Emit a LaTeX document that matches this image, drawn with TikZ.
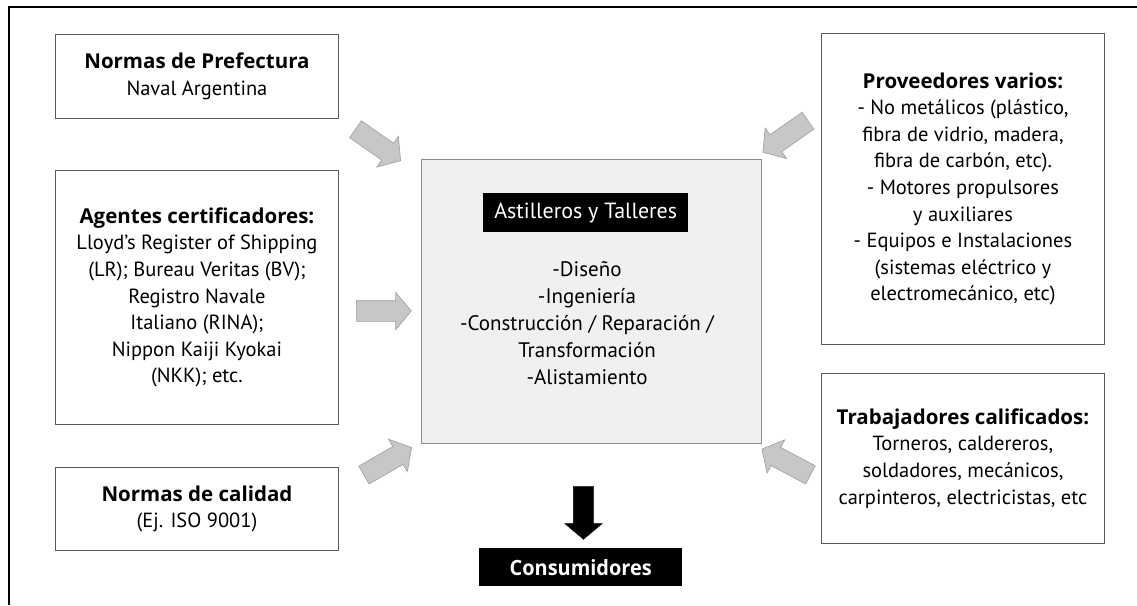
\documentclass[tikz,border=0pt]{standalone}
\usepackage{fontspec}
\setmainfont{PT Sans}
\newfontfamily\headfont{Open Sans}
\usetikzlibrary{shapes.arrows}

% bold heading inside the boxes
\newcommand{\boxhead}[1]{{\headfont\bfseries\fontsize{20.5}{26.6}\selectfont #1}}

\tikzset{
  txt/.style={font=\fontsize{20.5}{26.6}\selectfont, align=center},
  infobox/.style={txt, draw=black!65, line width=0.9pt, fill=white,
                  inner sep=0pt, anchor=north west},
  corebox/.style={draw=black!45, line width=0.9pt, fill=black!6,
                  inner sep=0pt, anchor=north west},
  blacklabel/.style={fill=black, text=white, inner sep=0pt, anchor=north west},
  grayarrow/.style={single arrow, draw=black!38, fill=black!22, line width=0.6pt,
                    inner sep=10pt, minimum height=55pt,
                    single arrow head extend=8.5pt, single arrow tip angle=100},
  blackarrow/.style={single arrow, draw=black, fill=black,
                     inner sep=10pt, minimum height=53pt,
                     single arrow head extend=8.5pt, single arrow tip angle=100},
}

\begin{document}
\begin{tikzpicture}[x=1pt, y=-1pt]
\useasboundingbox (0,0) rectangle (1137,605);

% frame on the left and top sides
\draw[line width=2pt] (9,605) -- (9,7) -- (1137,7);

% left column
\node[infobox, minimum width=283pt, minimum height=84pt] (pna) at (55,34)
  {\boxhead{Normas de Prefectura}\\Naval Argentina};
\node[infobox, minimum width=283pt, minimum height=254pt] (cert) at (55,170)
  {\boxhead{Agentes certificadores:}\\Lloyd's Register of Shipping\\(LR); Bureau Veritas (BV);\\Registro Navale\\Italiano (RINA);\\Nippon Kaiji Kyokai\\(NKK); etc.};
\node[infobox, minimum width=283pt, minimum height=83pt] (iso) at (55,467)
  {\boxhead{Normas de calidad}\\(Ej. ISO 9001)};

% right column
\node[infobox, minimum width=283pt, minimum height=311pt] (prov) at (821,33)
  {\boxhead{Proveedores varios:}\\- No metálicos (plástico,\\fibra de vidrio, madera,\\fibra de carbón, etc).\\- Motores propulsores\\y auxiliares\\- Equipos e Instalaciones\\(sistemas eléctrico y\\electromecánico, etc)};
\node[infobox, minimum width=283pt, minimum height=170pt] (trab) at (821,373)
  {\boxhead{Trabajadores calificados:}\\Torneros, caldereros,\\soldadores, mecánicos,\\carpinteros, electricistas, etc};

% central block
\node[corebox, minimum width=340pt, minimum height=284pt] (core) at (421,159) {};
\node[blacklabel, minimum width=205pt, minimum height=39pt,
      font=\fontsize{22}{26}\selectfont] (title) at (483,193)
  {Astilleros y Talleres};
\node[txt, font=\fontsize{21}{27}\selectfont] (tasks) at (587,323)
  {-Diseño\\-Ingeniería\\-Construcción / Reparación /\\Transformación\\-Alistamiento};

% output
\node[blacklabel, minimum width=203pt, minimum height=38pt,
      font=\headfont\bfseries\fontsize{21}{25}\selectfont] (cons) at (479,548)
  {\scalebox{0.95}[1]{Consumidores}};

% gray inflow arrows
\node[grayarrow, rotate=-35] (a1) at (374.5,142.5) {};
\node[grayarrow] (a2) at (379.5,311) {};
\node[grayarrow, rotate=30] (a3) at (384,463.5) {};
\node[grayarrow, rotate=-145] (a4) at (789,134) {};
\node[grayarrow, rotate=152] (a5) at (790,464) {};

% black outflow arrow
\node[blackarrow, rotate=-90] (out) at (583.5,508.5) {};
\end{tikzpicture}
\end{document}
